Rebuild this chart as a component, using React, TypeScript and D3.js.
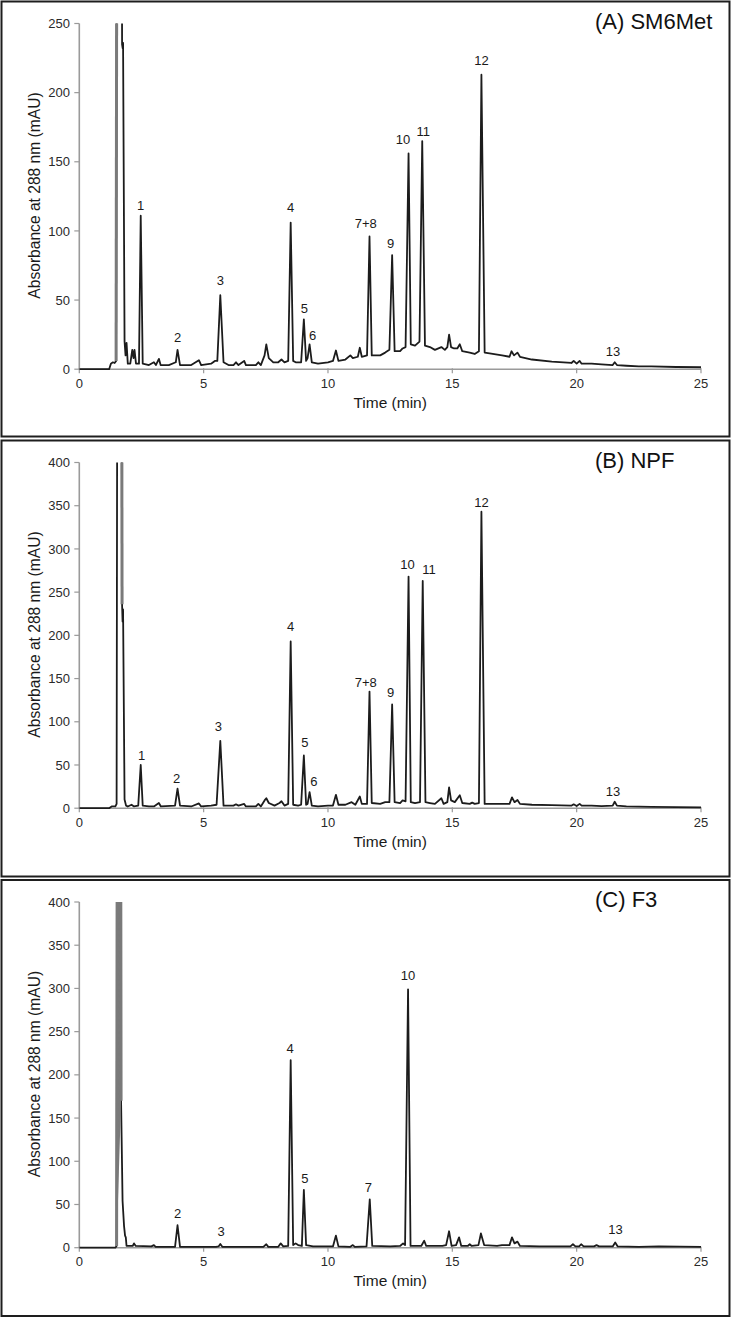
import React from 'react';
import * as d3 from 'd3';

type Pt = [number, number];

const timeTicks = [0, 5, 10, 15, 20, 25];
const absTicksA = [0, 50, 100, 150, 200, 250];
const absTicksBC = [0, 50, 100, 150, 200, 250, 300, 350, 400];
const absMax = [250, 400, 400];
const panelTitles = ['(A) SM6Met', '(B) NPF', '(C) F3'];
// time window of the solvent front drawn in grey for each panel
const solventStart = [1.48, 1.7, 1.5];
const solventEnd = [1.56, 1.72, 1.68];

// Trace samples [time (min), absorbance (mAU)]
const traceA: Pt[] = [
  [0, 0], [1.2, 0], [1.27, 4], [1.35, 5], [1.42, 4.5], [1.48, 6],
  [1.53, 600], [1.7, 600], [1.72, 235], [1.745, 232], [1.76, 236], [1.82, 20], [1.86, 10], [1.9, 19], [1.95, 4],
  [2.05, 4], [2.13, 14], [2.18, 8], [2.22, 14], [2.28, 4], [2.4, 4], [2.47, 111], [2.55, 4],
  [2.8, 3], [3.0, 5], [3.08, 3], [3.2, 7.5], [3.27, 3], [3.6, 3], [3.88, 5], [3.95, 14], [4.05, 3],
  [4.5, 3], [4.81, 6.5], [4.9, 3], [5.3, 4], [5.45, 6], [5.55, 6], [5.67, 53.5], [5.8, 5],
  [6.0, 3], [6.2, 3], [6.3, 5], [6.4, 3], [6.63, 6], [6.7, 3], [7.1, 3], [7.2, 5], [7.3, 3],
  [7.45, 10], [7.52, 18], [7.62, 8], [7.8, 5], [8.0, 5], [8.13, 7], [8.25, 5], [8.4, 6],
  [8.5, 106], [8.6, 6], [8.7, 5], [8.92, 5], [9.03, 36], [9.12, 6], [9.18, 8], [9.26, 18], [9.35, 5],
  [9.6, 4], [10.0, 5], [10.2, 6], [10.32, 13.5], [10.42, 6], [10.7, 7], [10.9, 10], [11.0, 8],
  [11.2, 9], [11.28, 15.5], [11.36, 9], [11.57, 10], [11.67, 96], [11.76, 10], [12.1, 10], [12.3, 12],
  [12.47, 14], [12.58, 82.5], [12.68, 13], [12.9, 13], [13.0, 15], [13.12, 16], [13.24, 156], [13.33, 18],
  [13.5, 17], [13.68, 20], [13.79, 165], [13.9, 17], [14.1, 16], [14.3, 14], [14.56, 16], [14.7, 14],
  [14.8, 16], [14.87, 25], [14.95, 16], [15.07, 15], [15.2, 15], [15.3, 18], [15.4, 13], [15.7, 12],
  [15.9, 11], [16.07, 13], [16.17, 213], [16.3, 12], [16.5, 11.5], [17.0, 10], [17.3, 9], [17.38, 13],
  [17.48, 10], [17.62, 12], [17.72, 9], [18.2, 7], [19.0, 5.5], [19.79, 4.5], [19.88, 6], [20.0, 4],
  [20.12, 6], [20.2, 4], [20.6, 4], [21.0, 3.5], [21.45, 3], [21.53, 5], [21.62, 3], [22.0, 2.5],
  [22.5, 2], [23.0, 2], [24.0, 1.6], [25, 1.4],
];

const traceB: Pt[] = [
  [0, 0], [1.2, 0], [1.3, 2], [1.45, 2], [1.5, 5], [1.53, 600], [1.7, 600], [1.72, 236], [1.74, 216],
  [1.76, 230], [1.82, 10], [1.88, 3], [1.95, 2], [2.1, 4], [2.2, 2], [2.37, 3], [2.47, 50], [2.55, 3],
  [2.8, 2], [3.0, 2], [3.2, 6], [3.28, 2], [3.85, 3], [3.95, 22.5], [4.05, 3], [4.5, 2], [4.81, 5.5],
  [4.9, 2], [5.3, 3], [5.52, 4], [5.67, 78], [5.8, 3], [6.2, 3], [6.3, 4.5], [6.4, 3], [6.63, 5],
  [6.7, 2], [7.1, 2], [7.2, 5], [7.3, 2], [7.45, 9], [7.52, 11.5], [7.62, 6], [7.85, 3], [8.05, 6],
  [8.13, 8], [8.25, 3], [8.4, 5], [8.5, 193], [8.6, 4], [8.8, 3], [8.92, 4], [9.03, 61], [9.12, 4], [9.18, 5],
  [9.26, 18.5], [9.35, 3], [9.6, 2], [10.0, 3], [10.2, 3], [10.32, 15.5], [10.42, 4], [10.7, 4],
  [10.95, 7], [11.1, 4], [11.28, 13.5], [11.36, 5], [11.57, 5], [11.67, 135], [11.76, 6], [12.1, 5],
  [12.3, 7], [12.47, 7], [12.58, 120], [12.68, 7], [12.9, 6], [13.0, 9], [13.12, 8], [13.24, 268],
  [13.33, 7], [13.5, 6], [13.7, 7], [13.81, 263], [13.92, 7], [14.1, 6], [14.3, 5], [14.56, 11.5],
  [14.65, 5], [14.8, 7], [14.87, 24], [14.95, 9], [15.1, 7], [15.3, 15], [15.4, 6], [15.7, 5],
  [15.8, 6.5], [15.9, 5], [16.07, 6], [16.17, 343], [16.3, 5], [16.6, 5], [17.0, 5], [17.3, 5],
  [17.4, 12.5], [17.5, 7], [17.62, 9.5], [17.72, 5], [18.2, 4], [19.0, 3.5], [19.8, 3], [19.88, 4.5],
  [20.0, 2.5], [20.12, 5], [20.2, 3], [20.6, 3], [21.0, 2.5], [21.45, 3], [21.53, 7.5], [21.62, 3],
  [22.0, 2], [23, 1.5], [24, 1.2], [25, 1],
];

const traceC: Pt[] = [
  [0, 0], [1.45, 0], [1.5, 2], [1.53, 600], [1.66, 600], [1.68, 170], [1.74, 54], [1.8, 25], [1.84, 14],
  [1.87, 12], [1.9, 2], [2.0, 2], [2.15, 2], [2.2, 5], [2.27, 2], [2.9, 1.5], [3.0, 3], [3.07, 1],
  [3.85, 1], [3.95, 26], [4.05, 1], [5.5, 1], [5.6, 1.5], [5.67, 4.3], [5.75, 1], [7.4, 1], [7.52, 4],
  [7.6, 1], [8.0, 1], [8.1, 5], [8.2, 1.5], [8.4, 2], [8.5, 217], [8.6, 3], [8.7, 5], [8.8, 3],
  [8.95, 2], [9.03, 67], [9.12, 3], [9.4, 1.5], [10.2, 1.5], [10.32, 14], [10.42, 1.5], [10.9, 1],
  [11.0, 3], [11.08, 1], [11.55, 1.5], [11.68, 56], [11.78, 2], [12.5, 1.5], [12.9, 2], [13.02, 5],
  [13.1, 3], [13.22, 299], [13.32, 2], [13.75, 2], [13.87, 8], [13.95, 2], [14.6, 2], [14.75, 3],
  [14.87, 19], [14.97, 2], [15.15, 3], [15.27, 12], [15.36, 2], [15.62, 2], [15.7, 4], [15.78, 2],
  [16.05, 3], [16.15, 16.5], [16.28, 3], [16.8, 2], [17.0, 3], [17.3, 3], [17.4, 12], [17.5, 5],
  [17.62, 7], [17.72, 2], [18.5, 1.5], [19.75, 1.5], [19.85, 4], [19.95, 1.5], [20.1, 1.5],
  [20.18, 4], [20.28, 1.5], [20.7, 1.5], [20.8, 3], [20.9, 1.5], [21.45, 1.5], [21.55, 6],
  [21.65, 1.5], [22.5, 1], [23.3, 1.5], [25, 1],
];

// Peak labels: [text, time, absorbance at label baseline]
const labelsA: [string, number, number][] = [
  ['1', 2.47, 115], ['2', 3.95, 20], ['3', 5.67, 61], ['4', 8.5, 114], ['5', 9.05, 40.6],
  ['6', 9.38, 21], ['7+8', 11.52, 102], ['9', 12.52, 88], ['10', 13.02, 163], ['11', 13.83, 169],
  ['12', 16.17, 219.7], ['13', 21.46, 9.8],
];
const labelsB: [string, number, number][] = [
  ['1', 2.51, 56], ['2', 3.91, 29.6], ['3', 5.59, 89.5], ['4', 8.5, 205], ['5', 9.07, 70.6],
  ['6', 9.43, 25.8], ['7+8', 11.52, 140], ['9', 12.52, 128.5], ['10', 13.2, 276.6], ['11', 14.06, 271.2],
  ['12', 16.17, 349], ['13', 21.46, 14.6],
];
const labelsC: [string, number, number][] = [
  ['2', 3.95, 34.4], ['3', 5.7, 13.1], ['4', 8.48, 225.8], ['5', 9.07, 74.5], ['7', 11.62, 64],
  ['10', 13.22, 309.2], ['13', 21.56, 15.9],
];

const traces = [traceA, traceB, traceC];
const labels = [labelsA, labelsB, labelsC];
const yTicks = [absTicksA, absTicksBC, absTicksBC];

const FONT = '"Liberation Sans", Arial, Helvetica, sans-serif';
const W = 731;
const H = 1317;
const panelTops = [1.5, 440.5, 880];
const panelHeights = [435, 436, 436];
const plotLeft = 79.3;
const plotRight = 701;
const plotTopOff = 22;
const plotBottomOff = 367.7;

function Panel({ idx }: { idx: number }) {
  const top = panelTops[idx];
  const x = d3.scaleLinear().domain([0, 25]).range([plotLeft, plotRight]);
  const y = d3
    .scaleLinear()
    .domain([0, absMax[idx]])
    .range([top + plotBottomOff, top + plotTopOff]);
  const line = d3
    .line<Pt>()
    .x((d) => x(d[0]))
    .y((d) => y(d[1]));
  const clipId = `clip-${idx}`;
  const y0 = y(0);
  const solvent = traces[idx].filter((d) => d[0] >= solventStart[idx] && d[0] <= solventEnd[idx]);
  return (
    <g>
      <rect
        x={1.5}
        y={top}
        width={728}
        height={panelHeights[idx]}
        fill="#fff"
        stroke="#1e1e1e"
        strokeWidth={2}
      />
      <defs>
        <clipPath id={clipId}>
          <rect x={plotLeft} y={y(absMax[idx])} width={plotRight - plotLeft + 2} height={y0 - y(absMax[idx]) + 4} />
        </clipPath>
      </defs>
      {/* y axis */}
      <line x1={plotLeft} x2={plotLeft} y1={y0} y2={y(absMax[idx])} stroke="#9a9a9a" strokeWidth={1.6} />
      {yTicks[idx].map((t) => (
        <g key={`yt${t}`}>
          <line x1={plotLeft - 5} x2={plotLeft} y1={y(t)} y2={y(t)} stroke="#9a9a9a" strokeWidth={1.2} />
          <text
            x={70}
            y={y(t) + 4.6}
            textAnchor="end"
            fontSize={13}
            fontFamily={FONT}
            fill="#2a2a2a"
          >
            {t}
          </text>
        </g>
      ))}
      {/* x axis */}
      <line x1={x(0)} x2={x(25)} y1={y0} y2={y0} stroke="#9a9a9a" strokeWidth={1.6} />
      {timeTicks.map((t) => (
        <g key={`xt${t}`}>
          <line x1={x(t)} x2={x(t)} y1={y0 - 1} y2={y0 + 4} stroke="#9a9a9a" strokeWidth={1.2} />
          <text
            x={x(t)}
            y={y0 + 18.5}
            textAnchor="middle"
            fontSize={13}
            fontFamily={FONT}
            fill="#2a2a2a"
          >
            {t}
          </text>
        </g>
      ))}
      <text
        x={(plotLeft + plotRight) / 2}
        y={y0 + 38.5}
        textAnchor="middle"
        fontSize={15.5}
        fontFamily={FONT}
        fill="#1a1a1a"
      >
        Time (min)
      </text>
      <text
        transform={`translate(39.5, ${top + 194}) rotate(-90)`}
        textAnchor="middle"
        fontSize={15.6}
        fontFamily={FONT}
        fill="#1a1a1a"
      >
        Absorbance at 288 nm (mAU)
      </text>
      <g clipPath={`url(#${clipId})`}>
        <path
          d={line(traces[idx]) || ''}
          fill="none"
          stroke="#1c1c1c"
          strokeWidth={1.8}
          strokeLinejoin="round"
        />
        <path d={line(solvent) || ''} fill="#7a7a7a" stroke="#7a7a7a" strokeWidth={3} />
      </g>
      {labels[idx].map(([txt, t, v]) => (
        <text
          key={`lb${txt}`}
          x={x(t)}
          y={y(v)}
          textAnchor="middle"
          fontSize={13}
          fontFamily={FONT}
          fill="#1a1a1a"
        >
          {txt}
        </text>
      ))}
      <text x={595} y={top + 27} fontSize={22} fontFamily={FONT} fill="#111">
        {panelTitles[idx]}
      </text>
    </g>
  );
}

export default function App() {
  return (
    <svg
      width={W}
      height={H}
      viewBox={`0 0 ${W} ${H}`}
      style={{ position: 'absolute', left: 0, top: 0, display: 'block', background: '#fff' }}
    >
      {[0, 1, 2].map((i) => (
        <Panel key={i} idx={i} />
      ))}
    </svg>
  );
}
